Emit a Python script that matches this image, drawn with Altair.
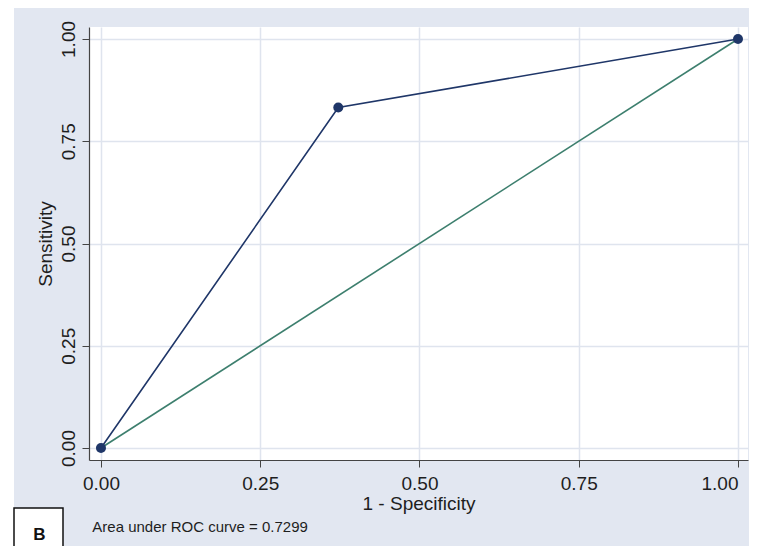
import altair as alt
import pandas as pd

# ROC curve points (1 - specificity, sensitivity)
fpr = [0.0, 0.3725, 1.0]
tpr = [0.0, 0.8323, 1.0]
# reference (chance) line
ref_x = [0.0, 1.0]
ref_y = [0.0, 1.0]
tick_values = [0.0, 0.25, 0.5, 0.75, 1.0]
auc_text = "Area under ROC curve = 0.7299"
panel_label = "B"
x_title = "1 - Specificity"
y_title = "Sensitivity"

roc = pd.DataFrame({"fpr": fpr, "tpr": tpr})
ref = pd.DataFrame({"fpr": ref_x, "tpr": ref_y})
one = pd.DataFrame({"k": [0]})

FONT = "Liberation Sans"
BG = "#e2e7f1"
GRID = "#dfe4ee"
NAVY = "#1f3668"
TEAL = "#3d7f6e"
TXT = "#1e1e1e"

xscale = alt.Scale(domain=[-0.0188, 1.0157], nice=False, zero=False)
yscale = alt.Scale(domain=[-0.0293, 1.0293], nice=False, zero=False)

xaxis = alt.Axis(values=tick_values, format=".2f", title=x_title,
                 grid=True, gridColor=GRID, gridWidth=1.5,
                 domainColor="#444444", domainWidth=1.2,
                 tickColor="#444444", tickSize=7, tickWidth=1,
                 labelFont=FONT, labelFontSize=19, labelColor=TXT,
                 labelPadding=7, labelFlush=11, labelFlushOffset=0,
                 titleFont=FONT, titleFontSize=19, titleFontWeight="normal",
                 titleColor=TXT, titleBaseline="alphabetic", titleY=49)
yaxis = alt.Axis(values=tick_values, format=".2f", title=y_title,
                 grid=True, gridColor=GRID, gridWidth=1.5,
                 domainColor="#444444", domainWidth=1.2,
                 tickColor="#444444", tickSize=7, tickWidth=1,
                 labelFont=FONT, labelFontSize=19, labelColor=TXT,
                 labelAngle=270, labelAlign="center", labelBaseline="alphabetic",
                 labelPadding=8, labelFlush=False,
                 titleFont=FONT, titleFontSize=19, titleFontWeight="normal",
                 titleColor=TXT, titleAngle=270, titleAlign="center",
                 titleBaseline="alphabetic", titleX=-38, titleY=216.5)

ref_line = alt.Chart(ref).mark_line(color=TEAL, strokeWidth=1.6).encode(
    x=alt.X("fpr:Q", scale=xscale, axis=xaxis),
    y=alt.Y("tpr:Q", scale=yscale, axis=yaxis),
)
roc_line = alt.Chart(roc).mark_line(color=NAVY, strokeWidth=1.6).encode(
    x=alt.X("fpr:Q", scale=xscale),
    y=alt.Y("tpr:Q", scale=yscale),
)
roc_pts = alt.Chart(roc).mark_point(filled=True, color=NAVY, size=100, opacity=1).encode(
    x=alt.X("fpr:Q", scale=xscale),
    y=alt.Y("tpr:Q", scale=yscale),
)

# left white page strip (decorative)
strip = alt.Chart(one).mark_rect(fill="white").encode(
    x=alt.value(-81), x2=alt.value(-75), y=alt.value(-19), y2=alt.value(530)
)
box = alt.Chart(one).mark_rect(fill="white", stroke="#111111", strokeWidth=1.5).encode(
    x=alt.value(-75), x2=alt.value(-26), y=alt.value(481), y2=alt.value(545)
)
box_text = alt.Chart(one).mark_text(font=FONT, fontSize=17, fontWeight="bold",
                                    color="#111111", align="center", baseline="alphabetic").encode(
    x=alt.value(-49.5), y=alt.value(513), text=alt.value(panel_label)
)
note = alt.Chart(one).mark_text(font=FONT, fontSize=15, color=TXT,
                                align="left", baseline="alphabetic").encode(
    x=alt.value(3.3), y=alt.value(505), text=alt.value(auc_text)
)

chart = alt.layer(ref_line, roc_line, roc_pts, strip, box, box_text, note).properties(
    width=659, height=433,
    background=BG,
    autosize=alt.AutoSizeParams(type="none"),
    padding={"left": 81, "top": 19, "right": 1, "bottom": 86},
).configure_view(fill="white", strokeWidth=0)

chart.save("out.html", embed_options={"renderer": "svg", "actions": False})
